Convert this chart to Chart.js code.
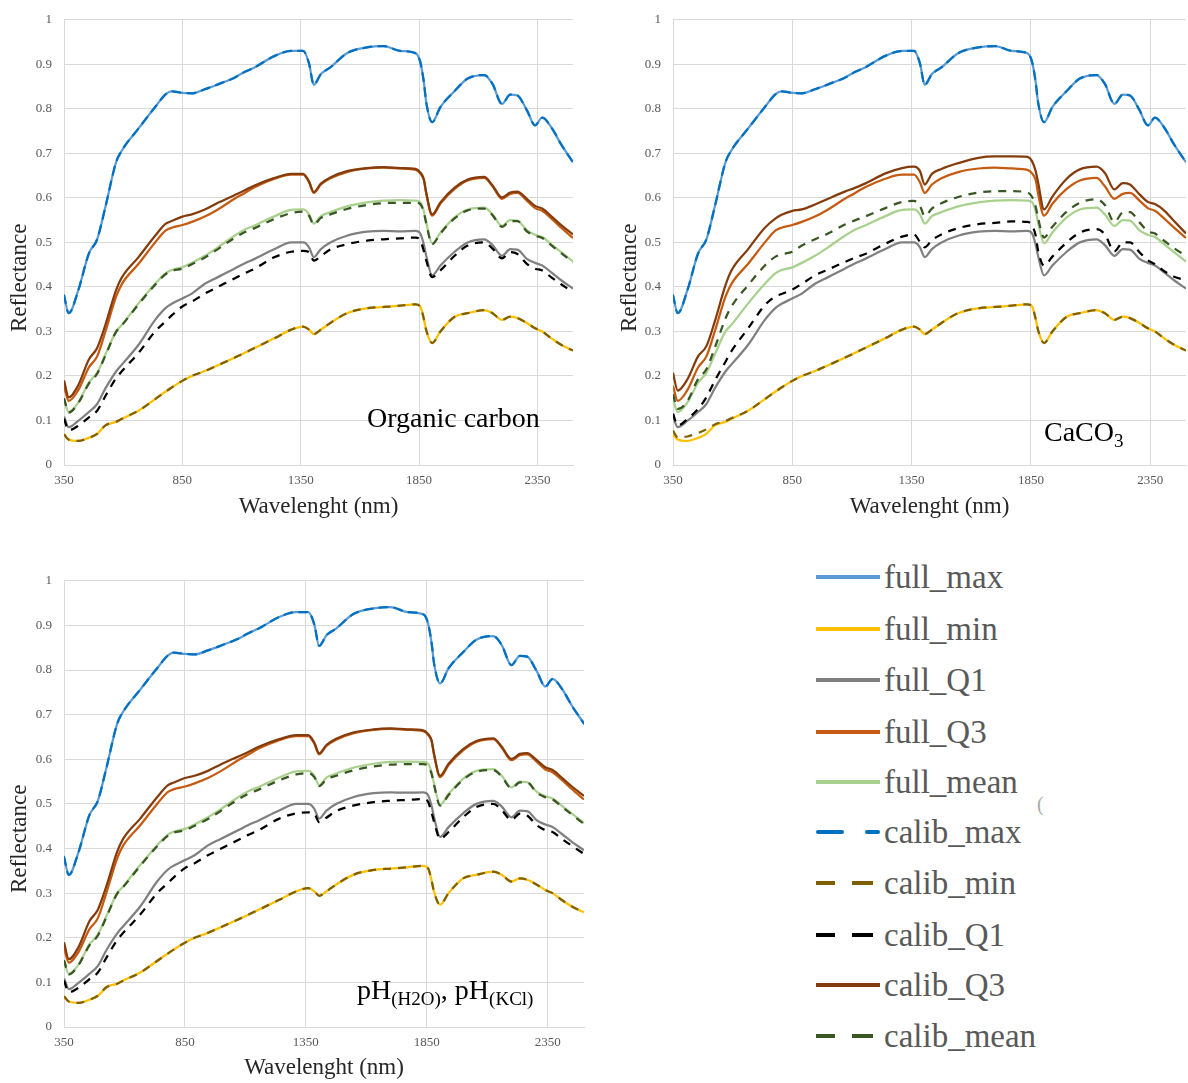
<!DOCTYPE html>
<html>
<head>
<meta charset="utf-8">
<script src="https://cdn.jsdelivr.net/npm/chart.js@4.4.8/dist/chart.umd.min.js"></script>
<style>
  body { margin: 0; background: #fff; width: 1188px; height: 1083px; position: relative; overflow: hidden; font-family: "Liberation Serif", serif; }
  canvas { position: absolute; }
  .note { position: absolute; font-size: 28px; line-height: 28px; color: #000; white-space: nowrap; }
  .note sub { font-size: 19px; vertical-align: -6px; line-height: 0; }
  .row { position: absolute; left: 816px; height: 40px; width: 360px; }
  .row svg { position: absolute; left: 0; top: 0; }
  .row span { position: absolute; left: 68px; top: 0; font-family: "Liberation Serif", serif; font-size: 33px; line-height: 40px; color: #595959; }
</style>
</head>
<body>
<canvas id="oc" width="590" height="525" style="left:0px;top:0px"></canvas>
<canvas id="caco3" width="579" height="525" style="left:609px;top:0px"></canvas>
<canvas id="ph" width="600" height="522" style="left:0px;top:561px"></canvas>

<div class="note" style="left:367px;top:404px">Organic carbon</div>
<div class="note" style="left:1044px;top:418px">CaCO<sub>3</sub></div>
<div class="note" style="left:357px;top:976px">pH<sub>(H2O)</sub>, pH<sub>(KCl)</sub></div>
<div id="legend"></div>

<script>
/*  Data  */

const wavelengths = [350, 370, 410, 455, 490, 525, 570, 595, 665, 735,
    780, 805, 850, 890, 945, 1000, 1070, 1110, 1155, 1240,
    1310, 1360, 1385, 1405, 1435, 1475, 1545, 1630, 1700, 1770,
    1835, 1855, 1870, 1880, 1905, 1940, 2000, 2055, 2125, 2160,
    2200, 2235, 2265, 2305, 2340, 2370, 2410, 2450, 2500];

const xTicks = [350, 850, 1350, 1850, 2350];

const seriesNames = ['full_max', 'full_min', 'full_Q1', 'full_Q3', 'full_mean',
    'calib_max', 'calib_min', 'calib_Q1', 'calib_Q3', 'calib_mean'];

// full dataset (same in every panel)
const fullMax = [0.381, 0.341, 0.392, 0.475, 0.507, 0.580, 0.680, 0.707, 0.756, 0.804,
    0.833, 0.839, 0.836, 0.835, 0.844, 0.855, 0.870, 0.882, 0.893, 0.919,
    0.930, 0.930, 0.902, 0.854, 0.878, 0.893, 0.925, 0.938, 0.941, 0.930,
    0.925, 0.905, 0.860, 0.815, 0.770, 0.804, 0.840, 0.868, 0.876, 0.856,
    0.811, 0.832, 0.830, 0.797, 0.763, 0.780, 0.757, 0.720, 0.680];

const fullMin = [0.069, 0.057, 0.054, 0.061, 0.070, 0.089, 0.097, 0.104, 0.122, 0.148,
    0.165, 0.174, 0.189, 0.200, 0.211, 0.224, 0.241, 0.251, 0.263, 0.285,
    0.304, 0.311, 0.304, 0.294, 0.304, 0.319, 0.341, 0.352, 0.355, 0.358,
    0.361, 0.356, 0.328, 0.303, 0.274, 0.300, 0.333, 0.341, 0.348, 0.341,
    0.326, 0.333, 0.330, 0.319, 0.307, 0.300, 0.284, 0.270, 0.257];

const fullQ1 = [0.109, 0.085, 0.099, 0.119, 0.137, 0.172, 0.210, 0.226, 0.270, 0.326,
    0.353, 0.362, 0.374, 0.385, 0.407, 0.422, 0.441, 0.452, 0.463, 0.485,
    0.500, 0.500, 0.489, 0.467, 0.485, 0.500, 0.515, 0.524, 0.526, 0.525,
    0.526, 0.520, 0.495, 0.470, 0.426, 0.448, 0.479, 0.500, 0.507, 0.494,
    0.470, 0.485, 0.484, 0.463, 0.454, 0.448, 0.432, 0.415, 0.396];

const fullQ3 = [0.178, 0.144, 0.168, 0.219, 0.244, 0.300, 0.378, 0.407, 0.452, 0.500,
    0.527, 0.533, 0.539, 0.546, 0.558, 0.574, 0.598, 0.610, 0.624, 0.643,
    0.652, 0.652, 0.635, 0.611, 0.630, 0.644, 0.658, 0.666, 0.668, 0.666,
    0.663, 0.655, 0.640, 0.610, 0.560, 0.587, 0.620, 0.639, 0.645, 0.626,
    0.598, 0.609, 0.611, 0.594, 0.577, 0.571, 0.553, 0.533, 0.510];

const fullMean = [0.148, 0.119, 0.140, 0.185, 0.207, 0.248, 0.300, 0.315, 0.363, 0.407,
    0.431, 0.438, 0.444, 0.454, 0.470, 0.489, 0.515, 0.528, 0.538, 0.559,
    0.573, 0.574, 0.563, 0.542, 0.559, 0.568, 0.581, 0.590, 0.594, 0.595,
    0.594, 0.590, 0.570, 0.545, 0.498, 0.522, 0.556, 0.574, 0.578, 0.563,
    0.537, 0.550, 0.549, 0.527, 0.517, 0.512, 0.495, 0.478, 0.457];

// calibration set, organic carbon (pH panel looks the same)
const calibQ1OC = [0.104, 0.078, 0.088, 0.107, 0.122, 0.155, 0.195, 0.211, 0.252, 0.300,
    0.323, 0.336, 0.356, 0.367, 0.385, 0.400, 0.419, 0.430, 0.441, 0.467,
    0.479, 0.481, 0.478, 0.459, 0.469, 0.484, 0.496, 0.504, 0.507, 0.509,
    0.511, 0.505, 0.480, 0.460, 0.422, 0.437, 0.470, 0.493, 0.500, 0.486,
    0.464, 0.478, 0.474, 0.452, 0.441, 0.437, 0.421, 0.406, 0.388];

const calibQ3OC = [0.190, 0.152, 0.179, 0.237, 0.263, 0.315, 0.393, 0.422, 0.467, 0.515,
    0.542, 0.548, 0.558, 0.563, 0.574, 0.589, 0.606, 0.616, 0.628, 0.645,
    0.654, 0.654, 0.637, 0.613, 0.632, 0.646, 0.660, 0.667, 0.669, 0.667,
    0.665, 0.657, 0.642, 0.612, 0.563, 0.590, 0.623, 0.641, 0.647, 0.628,
    0.601, 0.612, 0.614, 0.598, 0.582, 0.576, 0.558, 0.539, 0.518];

const calibMeanOC = [0.150, 0.118, 0.139, 0.183, 0.205, 0.246, 0.299, 0.314, 0.361, 0.405,
    0.429, 0.436, 0.441, 0.451, 0.466, 0.485, 0.510, 0.522, 0.532, 0.553,
    0.566, 0.569, 0.560, 0.540, 0.555, 0.563, 0.575, 0.584, 0.588, 0.589,
    0.589, 0.586, 0.567, 0.543, 0.496, 0.520, 0.554, 0.572, 0.576, 0.561,
    0.535, 0.548, 0.548, 0.525, 0.515, 0.510, 0.493, 0.476, 0.455];

// calibration set, CaCO3
const calibMinCa = [0.077, 0.062, 0.064, 0.072, 0.080, 0.091, 0.099, 0.105, 0.122, 0.148,
    0.165, 0.174, 0.189, 0.200, 0.211, 0.224, 0.241, 0.251, 0.263, 0.285,
    0.304, 0.311, 0.304, 0.294, 0.304, 0.319, 0.341, 0.352, 0.355, 0.358,
    0.361, 0.356, 0.328, 0.303, 0.274, 0.300, 0.333, 0.341, 0.348, 0.341,
    0.326, 0.333, 0.330, 0.319, 0.307, 0.300, 0.284, 0.270, 0.257];

const calibQ1Ca = [0.115, 0.089, 0.103, 0.126, 0.152, 0.189, 0.232, 0.256, 0.307, 0.359,
    0.379, 0.384, 0.394, 0.407, 0.426, 0.439, 0.456, 0.465, 0.474, 0.497,
    0.513, 0.518, 0.501, 0.489, 0.505, 0.518, 0.532, 0.541, 0.544, 0.547,
    0.546, 0.538, 0.515, 0.482, 0.448, 0.468, 0.500, 0.522, 0.530, 0.518,
    0.480, 0.500, 0.500, 0.478, 0.460, 0.451, 0.435, 0.423, 0.415];

const calibQ3Ca = [0.207, 0.167, 0.192, 0.244, 0.267, 0.322, 0.404, 0.437, 0.485, 0.533,
    0.554, 0.562, 0.571, 0.574, 0.585, 0.598, 0.614, 0.622, 0.632, 0.655,
    0.667, 0.670, 0.660, 0.630, 0.654, 0.665, 0.678, 0.690, 0.693, 0.693,
    0.692, 0.682, 0.660, 0.635, 0.574, 0.603, 0.643, 0.664, 0.670, 0.656,
    0.619, 0.633, 0.630, 0.608, 0.591, 0.586, 0.571, 0.548, 0.520];

const calibMeanCa = [0.159, 0.126, 0.143, 0.193, 0.215, 0.263, 0.329, 0.356, 0.404, 0.448,
    0.468, 0.473, 0.479, 0.493, 0.507, 0.520, 0.540, 0.549, 0.558, 0.577,
    0.591, 0.593, 0.582, 0.559, 0.576, 0.588, 0.602, 0.612, 0.615, 0.615,
    0.612, 0.602, 0.580, 0.555, 0.511, 0.535, 0.569, 0.589, 0.597, 0.584,
    0.546, 0.567, 0.568, 0.545, 0.525, 0.520, 0.503, 0.487, 0.470];


/*  Styles  */

const FONT = 'Liberation Serif';
const DASH = [8, 7];
const SOLID_KEY = [[0, 64]];
const DASH_KEY = [[0, 19], [36, 57]];

const styles = {
    full_max:   { color: '#5B9BD5', dash: [], key: SOLID_KEY },
    full_min:   { color: '#FFC000', dash: [], key: SOLID_KEY },
    full_Q1:    { color: '#808080', dash: [], key: SOLID_KEY },
    full_Q3:    { color: '#C55A11', dash: [], key: SOLID_KEY },
    full_mean:  { color: '#A9D18E', dash: [], key: SOLID_KEY },
    calib_max:  { color: '#0070C0', dash: DASH, key: [[2, 26], [51, 62]], round: true },
    calib_min:  { color: '#7F6000', dash: DASH, key: DASH_KEY },
    calib_Q1:   { color: '#000000', dash: DASH, key: DASH_KEY },
    calib_Q3:   { color: '#843C0C', dash: [], key: SOLID_KEY },
    calib_mean: { color: '#385723', dash: DASH, key: DASH_KEY }
};


/*  Plugins  */

// rotated y title, sits a bit below the middle of the plot like the original
const yTitle = {
    id: 'yTitle',
    afterDraw(chart, args, opts) {
        const ctx = chart.ctx;
        ctx.save();
        ctx.translate(opts.x, chart.chartArea.top + opts.dy);
        ctx.rotate(-Math.PI / 2);
        ctx.font = '23px "' + FONT + '"';
        ctx.fillStyle = '#262626';
        ctx.textAlign = 'center';
        ctx.textBaseline = 'middle';
        ctx.fillText('Reflectance', 0, 0);
        ctx.restore();
    }
};


/*  Methods  */

function makeDatasets(values) {
    return seriesNames.map((name, k) => ({
        label: name,
        data: wavelengths.map((w, i) => ({ x: w, y: values[k][i] })),
        borderColor: styles[name].color,
        borderWidth: 2.25,
        borderDash: styles[name].dash,
        borderCapStyle: styles[name].round ? 'round' : 'butt',
        pointRadius: 0,
        cubicInterpolationMode: 'monotone',
        order: name.startsWith('calib') ? 0 : 1
    }));
}

function makeChart(p) {
    const ctx = document.getElementById(p.id).getContext('2d');
    return new Chart(ctx, {
        type: 'line',
        data: { datasets: makeDatasets(p.values) },
        plugins: [yTitle],
        options: {
            responsive: false,
            animation: false,
            layout: { padding: { left: 0, right: p.padRight, top: 16, bottom: 0 } },
            plugins: {
                legend: { display: false },
                tooltip: { enabled: false },
                yTitle: { x: p.titleX, dy: 258 }
            },
            scales: {
                x: {
                    type: 'linear',
                    min: 350,
                    max: 2500,
                    afterBuildTicks: s => { s.ticks = xTicks.map(v => ({ value: v })); },
                    afterFit: s => { s.height = p.xHeight; },
                    grid: { color: '#d9d9d9', lineWidth: 1, drawTicks: false },
                    border: { color: '#d9d9d9' },
                    ticks: {
                        padding: 8, color: '#595959', maxRotation: 0, autoSkip: false,
                        font: { family: FONT, size: 13 },
                        callback: v => String(v)
                    },
                    title: {
                        display: true, text: 'Wavelenght (nm)', color: '#262626',
                        font: { family: FONT, size: 23 },
                        padding: { top: 0, bottom: p.xTitlePad }
                    }
                },
                y: {
                    min: 0,
                    max: 1,
                    afterFit: s => { s.width = 64; },
                    grid: { color: '#d9d9d9', lineWidth: 1, drawTicks: false },
                    border: { color: '#d9d9d9' },
                    ticks: {
                        stepSize: 0.1, padding: 12, color: '#595959',
                        font: { family: FONT, size: 13 },
                        callback: v => String(Math.round(v * 10) / 10)
                    }
                }
            }
        }
    });
}

function buildLegend() {
    const box = document.getElementById('legend');
    const rowsY = [577, 629, 680, 732, 782, 832, 883, 935, 985, 1036];
    seriesNames.forEach((name, i) => {
        const st = styles[name];
        const segs = st.key.map(s =>
            '<line x1="' + s[0] + '" y1="20" x2="' + s[1] + '" y2="20" stroke="' + st.color +
            '" stroke-width="4" stroke-linecap="' + (st.round ? 'round' : 'butt') + '"/>').join('');
        const row = document.createElement('div');
        row.className = 'row';
        row.style.top = (rowsY[i] - 20) + 'px';
        row.innerHTML = '<svg width="66" height="40">' + segs + '</svg><span>' + name + '</span>';
        box.appendChild(row);
    });
    // stray mark next to the legend in the original
    const mark = document.createElement('div');
    mark.style.cssText = 'position:absolute;left:1037px;top:793px;font-size:20px;color:#aaa;';
    mark.textContent = '(';
    box.appendChild(mark);
}


/*  Panels  */

const panels = [
    { id: 'oc', padRight: 17, xHeight: 60, xTitlePad: 4, titleX: 20,
      values: [fullMax, fullMin, fullQ1, fullQ3, fullMean, fullMax, fullMin, calibQ1OC, calibQ3OC, calibMeanOC] },
    { id: 'caco3', padRight: 2, xHeight: 60, xTitlePad: 4, titleX: 21,
      values: [fullMax, fullMin, fullQ1, fullQ3, fullMean, fullMax, calibMinCa, calibQ1Ca, calibQ3Ca, calibMeanCa] },
    { id: 'ph', padRight: 16, xHeight: 56, xTitlePad: 1, titleX: 20,
      values: [fullMax, fullMin, fullQ1, fullQ3, fullMean, fullMax, fullMin, calibQ1OC, calibQ3OC, calibMeanOC] }
];

panels.forEach(makeChart);
buildLegend();
</script>
</body>
</html>
